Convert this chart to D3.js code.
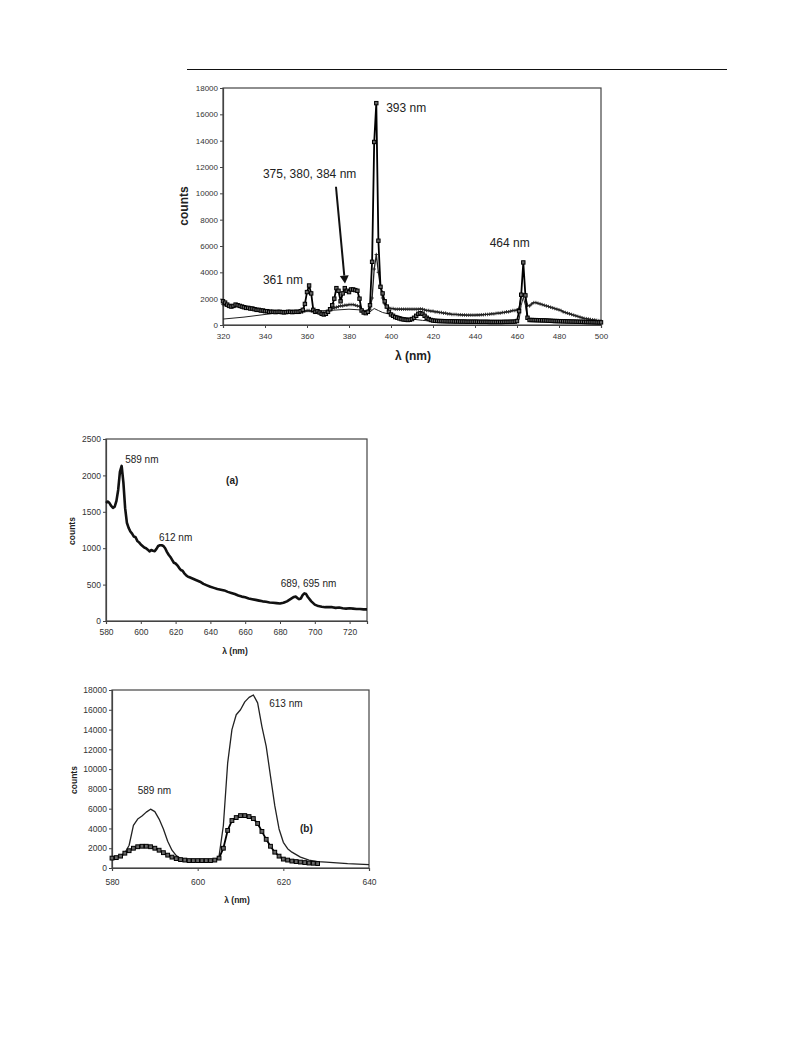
<!DOCTYPE html>
<html><head><meta charset="utf-8">
<script src="https://cdn.jsdelivr.net/npm/d3@7/dist/d3.min.js"></script>
<style>
html,body{margin:0;padding:0;background:#fff;}
svg{display:block;font-family:"Liberation Sans",Arial,sans-serif;}
</style></head>
<body>
<svg id="fig" width="793" height="1059"></svg>
<script>
// ---------- TOP CHART DATA (excitation spectra) ----------
const topXTicks = [320,340,360,380,400,420,440,460,480,500];
const topYTicks = [0,2000,4000,6000,8000,10000,12000,14000,16000,18000];
const topWl = [
320,321,322,323,324,325,326,327,328,329,330,331,332,333,334,335,336,337,338,339,
340,341,342,343,344,345,346,347,348,349,350,351,352,353,354,355,356,357,358,359,
360,361,362,363,364,365,366,367,368,369,370,371,372,373,374,375,376,377,378,379,
380,381,382,383,384,385,386,387,388,389,390,391,392,393,394,395,396,397,398,399,
400,401,402,403,404,405,406,407,408,409,410,411,412,413,414,415,416,417,418,419,
420,421,422,423,424,425,426,427,428,429,430,431,432,433,434,435,436,437,438,439,
440,441,442,443,444,445,446,447,448,449,450,451,452,453,454,455,456,457,458,459,
460,461,462,463,464,465,466,467,468,469,470,471,472,473,474,475,476,477,478,479,
480,481,482,483,484,485,486,487,488,489,490,491,492,493,494,495,496,497,498,499,500];
const topSquares = [
1800,1700,1550,1450,1400,1450,1550,1500,1450,1400,1350,1300,1300,1250,1250,1200,1150,1150,1100,1100,
1050,1050,1000,1000,1000,980,1000,1000,980,960,980,1000,1000,980,1000,1000,1000,1050,1150,1600,
2500,3000,2400,1150,1000,1050,950,850,800,850,1000,1200,1500,2000,2800,2600,1800,2400,2800,2600,
2500,2700,2700,2650,2600,2000,1100,950,900,1000,1500,4800,13900,16850,6400,2900,2400,1800,1400,1000,
800,700,600,550,500,450,420,400,380,400,450,550,700,850,900,850,700,550,450,380,
340,320,310,300,300,290,290,280,280,280,270,270,270,260,260,260,250,250,250,250,
250,250,240,240,240,240,240,230,230,230,230,230,230,230,240,240,240,250,250,260,
300,1050,2300,4750,2250,550,380,380,370,370,360,360,350,350,340,330,320,310,300,300,
290,290,280,280,270,270,260,260,250,250,240,240,230,230,220,220,210,210,200,200,200];
const topPlus = [
1550,1500,1450,1400,1400,1450,1500,1500,1450,1400,1400,1350,1300,1300,1250,1200,1200,1150,1150,1100,
1100,1050,1050,1050,1000,1000,1000,1000,1000,980,980,1000,1000,1000,1000,1000,1000,1000,1000,1050,
1100,1100,1050,1000,1000,1000,950,900,900,950,1050,1150,1250,1300,1350,1400,1450,1450,1500,1500,
1550,1550,1550,1500,1450,1400,1200,1050,1000,1050,1200,2050,4250,5350,4000,2900,2050,1600,1400,1300,
1250,1250,1200,1200,1200,1200,1200,1200,1200,1200,1200,1200,1200,1200,1220,1200,1150,1100,1100,1050,
1050,1000,1000,950,950,900,900,850,850,800,800,800,780,780,760,760,750,750,750,750,
750,760,760,780,780,800,800,820,850,850,880,900,900,950,950,1000,1000,1050,1100,1100,
1150,1250,2200,2300,2200,1500,1450,1600,1700,1700,1650,1600,1550,1500,1450,1400,1350,1300,1250,1200,
1150,1100,1000,950,900,850,800,750,700,650,600,550,500,480,450,420,400,380,350,330,300];
const topThinWl = [320,330,340,350,360,370,380,385,388,390,392,394,396,400,405,410,415,420,440,460,461,462,463,464,465,466,480,500];
const topThin   = [450,600,800,1000,1050,1100,1200,1150,1000,1000,1250,1100,950,800,600,450,350,300,250,250,400,1500,2100,1500,400,300,250,200];

// ---------- MIDDLE CHART (a) DATA ----------
const aXTicks = [580,600,620,640,660,680,700,720];
const aYTicks = [0,500,1000,1500,2000,2500];
const aWl = [580,581,582,583,584,585,586,587,588,589,590,591,592,593,594,595,596,597,598,599,
600,601,602,603,604,605,606,607,608,609,610,611,612,613,614,615,616,617,618,619,
620,621,622,623,624,625,626,627,628,629,630,632,634,636,638,640,642,644,646,648,
650,652,654,656,658,660,662,664,666,668,670,672,674,676,678,680,682,684,686,688,
689,690,691,692,693,694,695,696,698,700,702,704,706,708,710,712,714,716,718,720,
722,724,726,728,730];
const aCounts = [1620,1640,1620,1580,1555,1570,1650,1800,2050,2130,1900,1550,1350,1280,1230,1200,1160,1150,1100,1080,
1050,1030,1010,1000,980,955,975,965,960,990,1030,1040,1040,1030,1000,950,910,880,840,800,
790,765,730,700,690,655,630,610,600,590,580,560,540,510,490,470,455,440,430,420,
400,385,370,350,335,325,310,300,290,280,270,265,255,250,245,240,250,270,300,330,
335,315,300,310,355,380,370,330,270,225,205,195,190,190,190,180,185,175,170,175,
170,165,165,160,160];

// ---------- BOTTOM CHART (b) DATA ----------
const bXTicks = [580,600,620,640];
const bYTicks = [0,2000,4000,6000,8000,10000,12000,14000,16000,18000];
const bThinWl = [580,581,582,583,584,585,586,587,588,589,590,591,592,593,594,595,596,597,598,600,602,604,605,606,607,608,609,610,611,612,613,614,615,616,617,618,619,620,621,622,624,626,628,630,635,640];
const bThin   = [1000,1050,1200,1500,2300,4300,4950,5250,5650,5950,5700,4950,3950,2700,1800,1250,950,800,720,700,700,720,1200,4300,10600,14000,15500,16000,16800,17250,17500,16700,14300,12300,9300,6300,3950,2600,1950,1600,1100,800,650,600,450,350];
const bSqWl = [580,581,582,583,584,585,586,587,588,589,590,591,592,593,594,595,596,597,598,599,
600,601,602,603,604,605,606,607,608,609,610,611,612,613,614,615,616,617,618,619,
620,621,622,623,624,625,626,627,628];
const bSquares = [1000,1050,1200,1500,1750,2000,2150,2200,2200,2150,2000,1800,1550,1300,1100,950,850,800,750,750,
750,750,750,750,800,1000,2000,3800,4800,5100,5300,5300,5200,5000,4500,3700,2900,2200,1600,1200,
900,800,700,650,600,550,500,480,450];

const svg = d3.select("#fig");

// header rule
svg.append("line").attr("x1",187).attr("x2",727).attr("y1",69.5).attr("y2",69.5)
  .attr("stroke","#111").attr("stroke-width",1);

function makeChart(o){
  const x = d3.scaleLinear().domain(o.xDom).range([o.L,o.R]);
  const y = d3.scaleLinear().domain(o.yDom).range([o.B,o.T]);
  const g = svg.append("g");
  g.append("rect").attr("x",o.L).attr("y",o.T).attr("width",o.R-o.L).attr("height",o.B-o.T)
    .attr("fill","none").attr("stroke","#444").attr("stroke-width",1.2);
  const ax = g.append("g").attr("transform",`translate(0,${o.B})`)
    .call(d3.axisBottom(x).tickValues(o.xTicks).tickSize(3).tickPadding(o.xPad).tickFormat(d3.format("d")));
  const ay = g.append("g").attr("transform",`translate(${o.L},0)`)
    .call(d3.axisLeft(y).tickValues(o.yTicks).tickSize(3).tickPadding(2).tickFormat(d3.format("d")));
  [ax,ay].forEach(a=>{
    a.select(".domain").attr("stroke","#444").attr("stroke-width",1.2);
    a.selectAll(".tick line").attr("stroke","#444");
    a.selectAll("text").attr("font-size",o.tickFs).attr("fill","#333")
      .attr("font-family","'Liberation Sans',Arial,sans-serif");
  });
  g.append("text").attr("transform",`translate(${o.yTitle[0]},${o.yTitle[1]}) rotate(-90)`)
    .attr("text-anchor","middle").attr("dominant-baseline","middle")
    .attr("font-weight","bold").attr("font-size",o.titleFs).attr("fill","#222").text("counts");
  g.append("text").attr("x",o.xTitle[0]).attr("y",o.xTitle[1])
    .attr("text-anchor","middle").attr("font-weight","bold").attr("font-size",o.titleFs).attr("fill","#222").text("λ (nm)");
  return {g,x,y};
}

function line(g,x,y,xs,ys,w,col){
  const pts = xs.map((d,i)=>[d,ys[i]]);
  g.append("path").datum(pts).attr("fill","none").attr("stroke",col||"#111")
    .attr("stroke-width",w).attr("stroke-linejoin","round")
    .attr("d",d3.line().x(d=>x(d[0])).y(d=>y(d[1])));
  return pts;
}
function squares(g,x,y,pts,s){
  g.append("g").selectAll("rect").data(pts).join("rect")
    .attr("x",d=>x(d[0])-s/2).attr("y",d=>y(d[1])-s/2).attr("width",s).attr("height",s)
    .attr("fill","#666").attr("stroke","#000").attr("stroke-width",1);
}
function pluses(g,x,y,pts,s){
  g.append("g").selectAll("path").data(pts).join("path")
    .attr("d",d=>{const cx=x(d[0]),cy=y(d[1]);return `M${cx-s/2},${cy}H${cx+s/2}M${cx},${cy-s/2}V${cy+s/2}`;})
    .attr("stroke","#222").attr("stroke-width",0.9).attr("fill","none");
}
function label(g,x,y,dx,dy,t,fs,bold){
  g.append("text").attr("x",x(dx)).attr("y",y(dy)).attr("font-size",fs)
    .attr("font-weight",bold?"bold":"normal").attr("fill","#222").text(t);
}

// ---- Top chart ----
{
  const c = makeChart({L:223,R:601,T:88,B:325,xDom:[320,500],yDom:[0,18000],
    xTicks:topXTicks,yTicks:topYTicks,xPad:5,tickFs:8,titleFs:12,
    yTitle:[185,206],xTitle:[413,360]});
  const {g,x,y} = c;
  line(g,x,y,topThinWl,topThin,1,"#222");
  const pp = line(g,x,y,topWl,topPlus,1.3,"#222");
  pluses(g,x,y,pp,3.5);
  const sp = line(g,x,y,topWl,topSquares,1.8,"#000");
  squares(g,x,y,sp,3.4);
  label(g,x,y,397.7,16150,"393 nm",12);
  label(g,x,y,339,11150,"375, 380, 384 nm",12);
  label(g,x,y,339,3150,"361 nm",12);
  label(g,x,y,447,5950,"464 nm",12);
  // arrow
  const ax0=x(373.8), ay0=y(10500), ax1=x(378.1), ay1=y(3150);
  const ang=Math.atan2(ay1-ay0,ax1-ax0);
  const hl=8, hw=4.5;
  const bx=ax1-hl*Math.cos(ang), by=ay1-hl*Math.sin(ang);
  g.append("line").attr("x1",ax0).attr("y1",ay0).attr("x2",bx).attr("y2",by)
    .attr("stroke","#111").attr("stroke-width",2);
  g.append("path").attr("d",`M${ax1},${ay1}L${bx+hw*Math.sin(ang)},${by-hw*Math.cos(ang)}L${bx-hw*Math.sin(ang)},${by+hw*Math.cos(ang)}Z`)
    .attr("fill","#111");
}

// ---- Middle chart (a) ----
{
  const {g,x,y} = makeChart({L:106,R:367,T:439,B:621,xDom:[580,730],yDom:[0,2500],
    xTicks:aXTicks,yTicks:aYTicks,xPad:5,tickFs:8.5,titleFs:8.5,
    yTitle:[73,531],xTitle:[235,654]});
  line(g,x,y,aWl,aCounts,2.6,"#111");
  label(g,x,y,591,2170,"589 nm",10);
  label(g,x,y,649,1880,"(a)",10,true);
  label(g,x,y,610.4,1100,"612 nm",10);
  label(g,x,y,680.4,472,"689, 695 nm",10);
}

// ---- Bottom chart (b) ----
{
  const {g,x,y} = makeChart({L:112,R:369,T:690,B:868,xDom:[580,640],yDom:[0,18000],
    xTicks:bXTicks,yTicks:bYTicks,xPad:8,tickFs:8.5,titleFs:8.5,
    yTitle:[75,780],xTitle:[237,903]});
  line(g,x,y,bThinWl,bThin,1.3,"#222");
  const sp = line(g,x,y,bSqWl,bSquares,1.8,"#000");
  squares(g,x,y,sp,3.8);
  label(g,x,y,616.7,16250,"613 nm",10);
  label(g,x,y,586,7460,"589 nm",10);
  label(g,x,y,623.9,3680,"(b)",10,true);
}
</script>
</body></html>
